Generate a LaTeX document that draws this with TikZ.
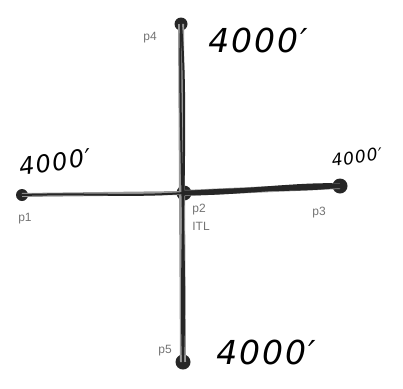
\documentclass[tikz,border=0pt]{standalone}
\usepackage{fontspec}
\setmainfont{Liberation Sans}
\newfontfamily\handfont[LetterSpace=6]{DejaVu Sans}
\begin{document}
\begin{tikzpicture}[x=1pt,y=-1pt,
  pt/.style={circle,fill=black!85,inner sep=0pt,minimum size=#1},
  lbl/.style={text=black!55,font=\fontsize{12}{13}\selectfont,inner sep=0pt},
  dist/.style={font=\handfont\itshape\fontsize{33}{35}\selectfont,inner sep=0pt},
  graybar/.style={draw=black!40,line width=6pt},
  ink/.style={draw=black!85,line width=2pt,line cap=round}]
\useasboundingbox (0,0) rectangle (403,388);
\node[pt=12pt] (p1) at (22,195) {};
\node[pt=15pt] (p2) at (184,193) {};
\node[pt=15pt] (p3) at (340,186) {};
\node[pt=13pt] (p4) at (181,24) {};
\node[pt=15pt] (p5) at (183,362) {};
% gray base lines
\draw[graybar,line width=4pt] (p1.center) -- (p2.center);
\draw[graybar] (p4.center) -- (p5.center);
\draw[graybar] (p2.center) -- (p3.center);
% ink strokes
\draw[ink] (p1.center) .. controls (90,193) and (130,197) .. (p2.center);
\draw[ink] (p4.center) .. controls (178,120) and (187,260) .. (p5.center);
\draw[ink] (p4.center) .. controls (189,120) and (179,260) .. (p5.center);
\draw[ink,line width=5pt] (p2.center) .. controls (240,193) and (300,184) .. (p3.center);
\draw[ink,line width=3pt] (p2.center) .. controls (240,187) and (300,192) .. (p3.center);
% labels
\node[lbl] (l4) at (150,38) {p4};
\node[lbl] (l1) at (25,219) {p1};
\node[lbl] (l2) at (199,210) {p2};
\node[lbl] (l2b) at (201,226) {ITL};
\node[lbl] (l3) at (319,213) {p3};
\node[lbl] (l5) at (165,351) {p5};
% distance labels
\node[dist] (d4) at (258,40) {4000′};
\node[dist,rotate=8,font=\handfont\itshape\fontsize{24}{26}\selectfont] (d1) at (55,162) {4000′};
\node[dist,rotate=8,font=\handfont\itshape\fontsize{17}{19}\selectfont] (d3) at (357,157) {4000′};
\node[dist] (d5) at (266,352) {4000′};
\end{tikzpicture}
\end{document}
